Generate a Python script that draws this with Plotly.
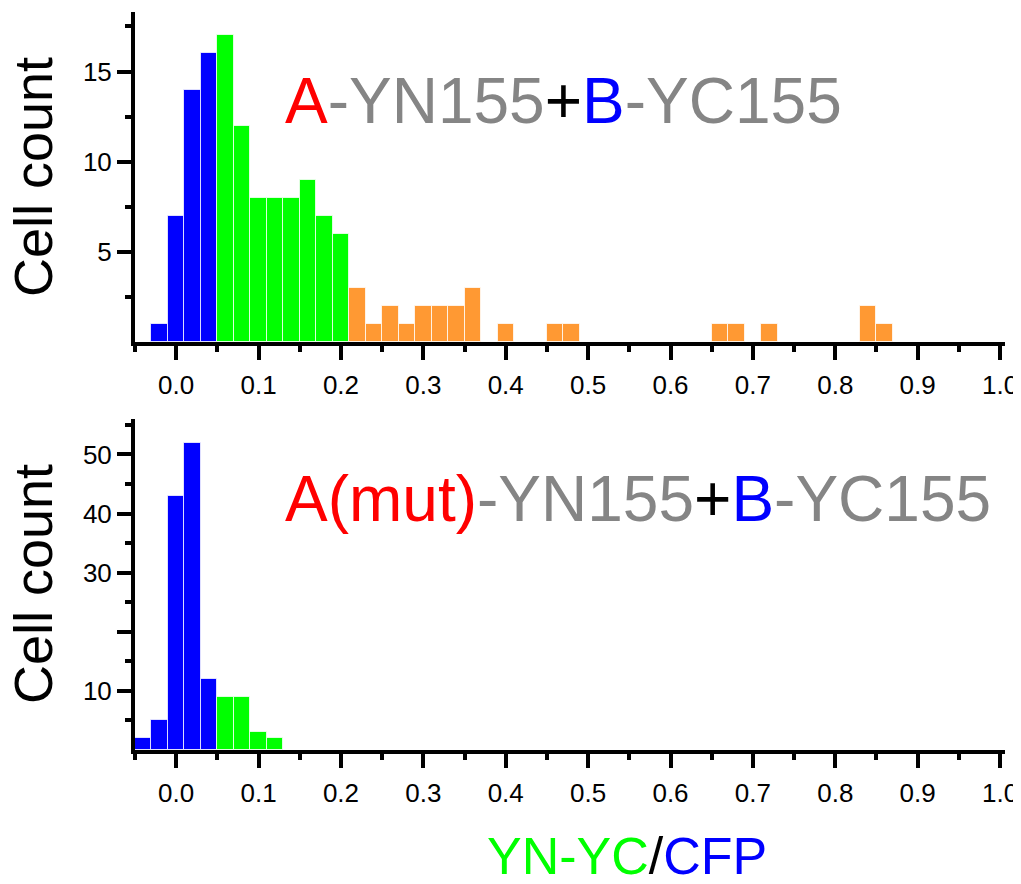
import plotly.graph_objects as go
from plotly.subplots import make_subplots

# ---------------- data ----------------
bin_width = 0.02

top_blue_x = [-0.02, 0.00, 0.02, 0.04]
top_blue_y = [1, 7, 14, 16]
top_green_x = [0.06, 0.08, 0.10, 0.12, 0.14, 0.16, 0.18, 0.20]
top_green_y = [17, 12, 8, 8, 8, 9, 7, 6]
top_orange_x = [0.22, 0.24, 0.26, 0.28, 0.30, 0.32, 0.34, 0.36,
                0.40, 0.46, 0.48, 0.66, 0.68, 0.72, 0.84, 0.86]
top_orange_y = [3, 1, 2, 1, 2, 2, 2, 3,
                1, 1, 1, 1, 1, 1, 2, 1]

bot_blue_x = [-0.04, -0.02, 0.00, 0.02, 0.04]
bot_blue_y = [2, 5, 43, 52, 12]
bot_green_x = [0.06, 0.08, 0.10, 0.12]
bot_green_y = [9, 9, 3, 2]

x_major_ticks = [0.0, 0.1, 0.2, 0.3, 0.4, 0.5, 0.6, 0.7, 0.8, 0.9, 1.0]
x_major_labels = ["0.0", "0.1", "0.2", "0.3", "0.4", "0.5", "0.6", "0.7", "0.8", "0.9", "1.0"]
x_minor_ticks = [-0.05, 0.05, 0.15, 0.25, 0.35, 0.45, 0.55, 0.65, 0.75, 0.85, 0.95]

top_y_ticks = [5, 10, 15]
top_y_labels = ["5", "10", "15"]
top_y_minor = [2.5, 7.5, 12.5, 17.5]

bot_y_ticks = [10, 20, 30, 40, 50]
bot_y_labels = ["10", "", "30", "40", "50"]
bot_y_minor = [5, 15, 25, 35, 45, 55]

BLUE = "#0000FF"
GREEN = "#00FF00"
ORANGE = "#FF9933"
RED = "#FF0000"
GRAY = "#858585"
FONT = "Liberation Sans"

# ---------------- figure ----------------
# the page body has an 8px default margin; work in page pixels
PAGE_OFF = 8
W, H = 1021 - PAGE_OFF, 884 - PAGE_OFF
page_left, page_right, page_top, page_bottom = 135, 1005, 12, 750
ML = page_left - PAGE_OFF
MR = W - (page_right - PAGE_OFF)
MT = page_top - PAGE_OFF
MB = H - (page_bottom - PAGE_OFF)
plot_h = H - MT - MB
top_bottom_px = 342
bot_top_px = 419


def px_to_paper_x(px):
    return (px - page_left) / (page_right - page_left)


def px_to_paper_y(py):
    return (page_bottom - py) / plot_h


dom_top = [px_to_paper_y(top_bottom_px), 1.0]
dom_bot = [0.0, px_to_paper_y(bot_top_px)]

fig = make_subplots(rows=2, cols=1, shared_xaxes=False)

bar_line = dict(color="rgba(255,255,255,0.75)", width=1)

for xs, ys, col in [(top_blue_x, top_blue_y, BLUE),
                    (top_green_x, top_green_y, GREEN),
                    (top_orange_x, top_orange_y, ORANGE)]:
    fig.add_trace(go.Bar(x=xs, y=ys, width=bin_width, marker=dict(color=col, line=bar_line),
                         showlegend=False), row=1, col=1)

for xs, ys, col in [(bot_blue_x, bot_blue_y, BLUE),
                    (bot_green_x, bot_green_y, GREEN)]:
    fig.add_trace(go.Bar(x=xs, y=ys, width=bin_width, marker=dict(color=col, line=bar_line),
                         showlegend=False), row=2, col=1)

xaxis_common = dict(
    range=[-0.05, 1.006],
    tickmode="array", tickvals=x_major_ticks, ticktext=x_major_labels,
    ticks="outside", ticklen=14, tickwidth=4, tickcolor="black",
    minor=dict(tickmode="array", tickvals=x_minor_ticks, ticks="outside",
               ticklen=6, tickwidth=4, tickcolor="black"),
    showline=True, linewidth=4, linecolor="black",
    showgrid=False, zeroline=False, automargin=False,
    ticklabelstandoff=3, ticklabeloverflow="allow",
    tickfont=dict(family=FONT, size=26, color="black"),
)

yaxis_common = dict(
    ticks="outside", ticklen=14, tickwidth=4, tickcolor="black",
    showline=True, linewidth=4, linecolor="black",
    showgrid=False, zeroline=False, automargin=False,
    tickfont=dict(family=FONT, size=26, color="black"),
)

fig.update_layout(
    width=W, height=H,
    margin=dict(l=ML, r=MR, t=MT, b=MB),
    plot_bgcolor="white", paper_bgcolor="white",
    barmode="overlay", bargap=0,
    font=dict(family=FONT),
    xaxis=dict(**xaxis_common, anchor="y"),
    xaxis2=dict(**xaxis_common, anchor="y2"),
    yaxis=dict(**yaxis_common, domain=dom_top, range=[0, 18.3],
               tickmode="array", tickvals=top_y_ticks, ticktext=top_y_labels,
               minor=dict(tickmode="array", tickvals=top_y_minor, ticks="outside",
                          ticklen=6, tickwidth=4, tickcolor="black")),
    yaxis2=dict(**yaxis_common, domain=dom_bot, range=[0, 56],
                tickmode="array", tickvals=bot_y_ticks, ticktext=bot_y_labels,
                minor=dict(tickmode="array", tickvals=bot_y_minor, ticks="outside",
                           ticklen=6, tickwidth=4, tickcolor="black")),
)

annotations = [
    dict(text=(f'<span style="color:{RED}">A</span><span style="color:{GRAY}">-YN155</span>'
               f'<span style="color:black">+</span><span style="color:{BLUE}">B</span>'
               f'<span style="color:{GRAY}">-YC155</span>'),
         x=px_to_paper_x(563), y=px_to_paper_y(101), size=64),
    dict(text=(f'<span style="color:{RED}">A(mut)</span><span style="color:{GRAY}">-YN155</span>'
               f'<span style="color:black">+</span><span style="color:{BLUE}">B</span>'
               f'<span style="color:{GRAY}">-YC155</span>'),
         x=px_to_paper_x(638), y=px_to_paper_y(499), size=64),
    dict(text=(f'<span style="color:{GREEN}">YN-YC</span><span style="color:black">/</span>'
               f'<span style="color:{BLUE}">CFP</span>'),
         x=px_to_paper_x(627), y=px_to_paper_y(856), size=52),
]
for a in annotations:
    fig.add_annotation(text=a["text"], x=a["x"], y=a["y"], xref="paper", yref="paper",
                       xanchor="center", yanchor="middle", showarrow=False,
                       font=dict(family=FONT, size=a["size"], color="black"))

for cy in [177, 584]:
    fig.add_annotation(text="Cell count", x=px_to_paper_x(33), y=px_to_paper_y(cy),
                       xref="paper", yref="paper", xanchor="center", yanchor="middle",
                       textangle=-90, showarrow=False,
                       font=dict(family=FONT, size=54, color="black"))

fig.write_html("out.html")
